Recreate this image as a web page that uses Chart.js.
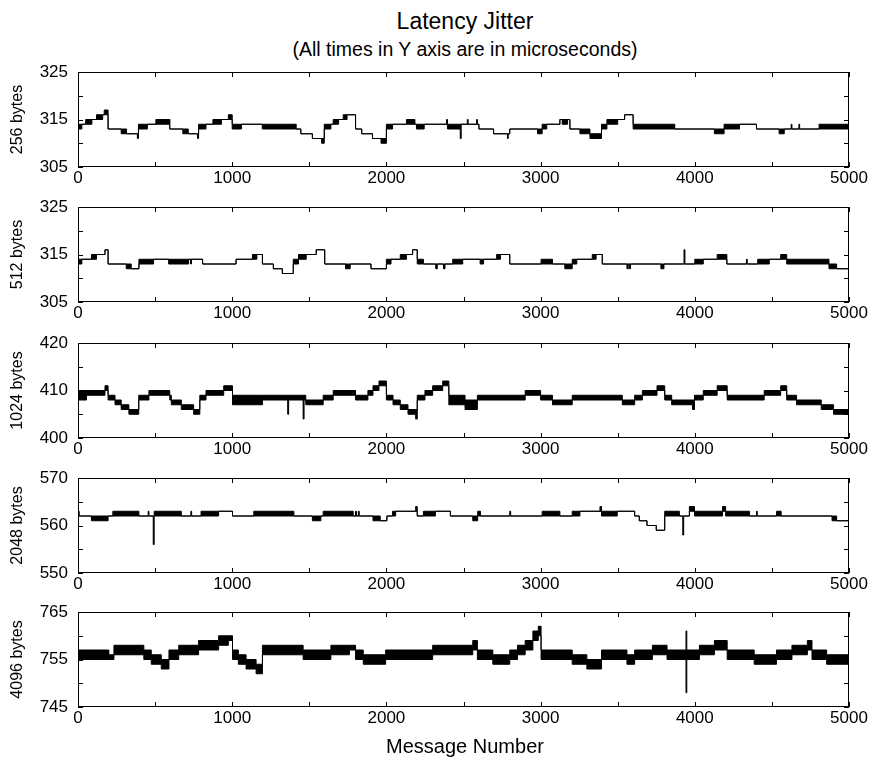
<!DOCTYPE html>
<html>
<head>
<meta charset="utf-8">
<title>Latency Jitter</title>
<script src="https://cdn.jsdelivr.net/npm/chart.js@4.4.1/dist/chart.umd.min.js"></script>
<style>
  body { margin: 0; background: #fff; overflow: hidden; }
  #wrap { position: relative; width: 871px; height: 757px; font-family: "Liberation Sans", Arial, sans-serif; color: #000; }
  #wrap canvas { position: absolute; left: 0; }
  .txt { position: absolute; left: 65px; width: 800px; text-align: center; white-space: nowrap; }
</style>
</head>
<body>
<div id="wrap">
  <div class="txt" style="top:8px;font-size:23px;line-height:26px;">Latency Jitter</div>
  <div class="txt" style="top:38px;font-size:19.5px;line-height:22px;">(All times in Y axis are in microseconds)</div>
  <canvas id="c256" width="871" height="137"></canvas>
  <canvas id="c512" width="871" height="137"></canvas>
  <canvas id="c1024" width="871" height="137"></canvas>
  <canvas id="c2048" width="871" height="137"></canvas>
  <canvas id="c4096" width="871" height="137"></canvas>
  <div class="txt" style="top:734px;font-size:20px;line-height:24px;">Message Number</div>
</div>
<script>
// x tick labels (message number)
const xTicks = [0, 1000, 2000, 3000, 4000, 5000];

// y tick labels per message size
const ticks256 = [305, 315, 325];
const ticks512 = [305, 315, 325];
const ticks1024 = [400, 410, 420];
const ticks2048 = [550, 560, 570];
const ticks4096 = [745, 755, 765];

// latency: [message number, low, high]
// each row holds until the next one; low < high is a band where the value flips between levels
const jitter256 = [
  [0, 313, 314], [25, 314, 314], [50, 314, 315], [90, 315, 315], [120, 315, 316], [160, 316, 316],
  [170, 316, 317], [195, 313, 313], [280, 312, 313], [315, 312, 312], [385, 311, 312], [392, 313, 314],
  [450, 314, 314], [505, 314, 315], [590, 315, 315], [595, 313, 313], [680, 312, 313], [715, 312, 312],
  [775, 311, 312], [782, 313, 314], [830, 314, 314], [875, 314, 315], [930, 315, 315], [975, 315, 316],
  [1000, 313, 314], [1060, 314, 314], [1195, 313, 314], [1415, 313, 313], [1445, 312, 312], [1520, 311, 311],
  [1580, 310, 311], [1597, 313, 314], [1640, 314, 314], [1655, 314, 315], [1690, 315, 315], [1720, 315, 316],
  [1745, 316, 316], [1800, 313, 313], [1840, 312, 312], [1910, 311, 311], [1965, 310, 311], [2000, 313, 314],
  [2040, 314, 314], [2130, 314, 315], [2185, 314, 314], [2195, 313, 314], [2245, 314, 314], [2390, 314, 315],
  [2396, 313, 314], [2479, 311, 314], [2485, 314, 314], [2525, 314, 315], [2530, 314, 314], [2585, 314, 315],
  [2590, 314, 314], [2600, 313, 313], [2695, 312, 312], [2785, 311, 312], [2790, 312, 312], [2800, 313, 313],
  [2980, 312, 313], [3010, 313, 314], [3040, 314, 314], [3125, 315, 315], [3140, 314, 315], [3175, 315, 315],
  [3190, 313, 313], [3255, 312, 313], [3320, 311, 312], [3395, 313, 314], [3430, 314, 315], [3500, 315, 315],
  [3545, 316, 316], [3600, 313, 314], [3870, 313, 313], [4127, 312, 313], [4190, 313, 314], [4290, 314, 314],
  [4400, 313, 313], [4547, 312, 313], [4580, 313, 313], [4625, 313, 314], [4630, 313, 313], [4675, 313, 314],
  [4680, 313, 313], [4806, 313, 314], [5000, 313, 314]
];

const jitter512 = [
  [0, 313, 314], [25, 314, 314], [87, 314, 315], [120, 315, 315], [175, 316, 316], [195, 313, 313],
  [313, 312, 313], [345, 312, 312], [395, 313, 314], [490, 314, 314], [588, 313, 314], [717, 314, 314],
  [730, 313, 314], [736, 314, 314], [808, 313, 313], [1025, 314, 314], [1131, 314, 315], [1160, 315, 315],
  [1196, 313, 313], [1267, 312, 312], [1325, 311, 311], [1396, 313, 314], [1430, 314, 315], [1480, 315, 315],
  [1545, 316, 316], [1600, 313, 313], [1735, 312, 313], [1765, 313, 313], [1900, 312, 312], [2000, 313, 314],
  [2030, 314, 314], [2090, 314, 315], [2130, 315, 315], [2170, 316, 316], [2200, 313, 314], [2240, 313, 313],
  [2320, 312, 313], [2330, 313, 313], [2370, 312, 313], [2380, 313, 313], [2430, 313, 314], [2495, 314, 314],
  [2608, 313, 314], [2630, 314, 314], [2715, 314, 315], [2740, 315, 315], [2800, 313, 313], [3003, 313, 314],
  [3077, 313, 313], [3157, 312, 313], [3205, 313, 314], [3235, 314, 314], [3335, 314, 315], [3360, 315, 315],
  [3400, 313, 313], [3560, 312, 313], [3568, 313, 313], [3575, 312, 313], [3583, 313, 313], [3780, 312, 313],
  [3800, 313, 313], [3930, 313, 316], [3936, 313, 313], [4000, 313, 314], [4055, 314, 314], [4145, 314, 315],
  [4208, 313, 313], [4335, 313, 314], [4340, 313, 313], [4408, 313, 314], [4483, 314, 314], [4557, 314, 315],
  [4596, 313, 314], [4870, 312, 313], [4920, 312, 312], [5000, 312, 312]
];

const jitter1024 = [
  [0, 408, 410], [55, 409, 410], [175, 410, 411], [195, 408, 409], [240, 407, 408], [280, 406, 407],
  [330, 405, 406], [394, 408, 409], [460, 409, 410], [595, 408, 409], [605, 407, 408], [670, 406, 407],
  [750, 405, 406], [790, 408, 409], [830, 409, 410], [945, 410, 411], [1002, 407, 409], [1196, 408, 409],
  [1360, 405, 409], [1366, 408, 409], [1460, 404, 409], [1466, 408, 409], [1477, 407, 408], [1590, 408, 409],
  [1655, 409, 410], [1800, 408, 409], [1880, 409, 410], [1913, 410, 411], [1952, 411, 412], [2000, 408, 409],
  [2043, 407, 408], [2090, 406, 407], [2140, 405, 406], [2190, 404, 406], [2200, 408, 409], [2250, 409, 410],
  [2300, 410, 411], [2365, 411, 412], [2405, 407, 409], [2510, 406, 408], [2590, 408, 409], [2900, 409, 410],
  [3000, 408, 409], [3077, 407, 408], [3205, 408, 409], [3530, 407, 408], [3610, 408, 409], [3660, 409, 410],
  [3755, 410, 411], [3805, 408, 409], [3850, 407, 408], [3985, 406, 408], [3998, 408, 409], [4055, 409, 410],
  [4145, 410, 411], [4210, 408, 409], [4450, 409, 410], [4557, 410, 411], [4596, 408, 409], [4660, 407, 408],
  [4820, 406, 407], [4900, 405, 406], [5000, 405, 406]
];

const jitter2048 = [
  [0, 562, 563], [8, 562, 562], [87, 561, 562], [195, 562, 562], [226, 562, 563], [395, 562, 562],
  [455, 562, 563], [460, 562, 562], [488, 556, 562], [494, 562, 563], [670, 562, 562], [732, 562, 563],
  [737, 562, 562], [798, 562, 563], [912, 563, 563], [1002, 562, 562], [1140, 562, 563], [1400, 562, 562],
  [1520, 561, 562], [1575, 562, 562], [1590, 562, 563], [1785, 562, 562], [1800, 562, 563], [1806, 562, 562],
  [1818, 562, 563], [1824, 562, 562], [1913, 561, 562], [1960, 561, 561], [2003, 562, 562], [2040, 562, 563],
  [2060, 563, 563], [2190, 563, 564], [2200, 562, 562], [2240, 562, 563], [2318, 563, 563], [2415, 562, 562],
  [2560, 561, 562], [2592, 562, 563], [2610, 562, 562], [2800, 562, 563], [2806, 562, 562], [3010, 562, 563],
  [3125, 562, 562], [3205, 562, 563], [3255, 563, 563], [3385, 563, 564], [3395, 562, 563], [3497, 563, 563],
  [3610, 562, 562], [3640, 561, 561], [3690, 560, 560], [3750, 559, 559], [3805, 562, 563], [3900, 562, 562],
  [3922, 558, 562], [3928, 562, 562], [3965, 563, 564], [3998, 562, 563], [4180, 563, 564], [4200, 562, 563],
  [4355, 562, 562], [4400, 562, 563], [4405, 562, 562], [4530, 562, 563], [4560, 562, 562], [4890, 561, 562],
  [4920, 561, 561], [5000, 561, 561]
];

const jitter4096 = [
  [0, 755, 757], [200, 755, 756], [233, 756, 758], [427, 755, 757], [475, 754, 756], [540, 753, 755],
  [590, 755, 757], [653, 756, 758], [782, 757, 759], [912, 758, 760], [975, 759, 760], [1002, 755, 757],
  [1040, 754, 756], [1090, 753, 755], [1155, 752, 754], [1196, 756, 758], [1460, 755, 757], [1640, 756, 758],
  [1760, 757, 758], [1800, 755, 757], [1850, 754, 756], [1995, 755, 757], [2300, 756, 758], [2560, 757, 759],
  [2590, 755, 757], [2690, 754, 756], [2800, 755, 757], [2850, 756, 758], [2900, 757, 759], [2950, 759, 761],
  [2985, 760, 762], [3003, 755, 757], [3205, 754, 756], [3300, 753, 755], [3395, 755, 757], [3560, 754, 756],
  [3610, 755, 757], [3725, 756, 758], [3820, 755, 757], [3943, 748, 761], [3948, 755, 757], [4030, 756, 758],
  [4127, 757, 759], [4210, 755, 757], [4385, 754, 756], [4530, 755, 757], [4630, 756, 758], [4730, 757, 759],
  [4760, 755, 757], [4855, 754, 756], [5000, 754, 756]
];

Chart.defaults.font.family = '"Liberation Sans", Arial, sans-serif';
Chart.defaults.color = "#000";

// gnuplot style box with inward ticks on all four sides
const frameTicks = {
  id: "frameTicks",
  afterDatasetsDraw(chart) {
    const { ctx, chartArea: a, scales } = chart;
    ctx.save();
    ctx.strokeStyle = "#000";
    ctx.lineWidth = 1;
    ctx.beginPath();
    for (let v = scales.x.min; v <= scales.x.max; v += 500) {
      const px = Math.round(scales.x.getPixelForValue(v)) + 0.5;
      ctx.moveTo(px, a.bottom);
      ctx.lineTo(px, a.bottom - 5);
      ctx.moveTo(px, a.top);
      ctx.lineTo(px, a.top + 5);
    }
    for (let v = scales.y.min; v <= scales.y.max; v += 5) {
      const py = Math.round(scales.y.getPixelForValue(v)) + 0.5;
      ctx.moveTo(a.left, py);
      ctx.lineTo(a.left + 5, py);
      ctx.moveTo(a.right, py);
      ctx.lineTo(a.right - 5, py);
    }
    ctx.stroke();
    ctx.strokeRect(a.left + 0.5, a.top + 0.5, a.right - a.left - 1, a.bottom - a.top - 1);
    ctx.restore();
  },
};

function noPad(scale) {
  scale.paddingLeft = 0;
  scale.paddingRight = 0;
  scale.paddingTop = 0;
  scale.paddingBottom = 0;
}

function points(rows, k) {
  return rows.map((r) => ({ x: r[0], y: r[k] }));
}

function makePanel(id, top, label, rows, yTicks) {
  const canvas = document.getElementById(id);
  canvas.style.top = top - 12 + "px";
  new Chart(canvas, {
    type: "line",
    data: {
      datasets: [
        {
          data: points(rows, 1),
          stepped: true,
          borderColor: "#000",
          borderWidth: 1,
          pointRadius: 0,
          fill: false,
        },
        {
          data: points(rows, 2),
          stepped: true,
          borderColor: "#000",
          borderWidth: 1,
          pointRadius: 0,
          fill: "-1",
          backgroundColor: "#000",
        },
      ],
    },
    options: {
      responsive: false,
      animation: false,
      devicePixelRatio: 1,
      layout: { padding: { top: 12, right: 22, left: 0, bottom: 0 } },
      plugins: { legend: { display: false }, tooltip: { enabled: false } },
      scales: {
        x: {
          type: "linear",
          min: 0,
          max: 5000,
          grid: { display: false, drawTicks: false },
          border: { display: false },
          afterBuildTicks: (s) => {
            s.ticks = xTicks.map((v) => ({ value: v }));
          },
          ticks: {
            font: { size: 17 },
            padding: 1,
            maxRotation: 0,
            autoSkip: false,
            callback: (v) => String(v),
          },
          afterFit: (s) => {
            s.height = 30;
            noPad(s);
          },
        },
        y: {
          min: yTicks[0],
          max: yTicks[yTicks.length - 1],
          grid: { display: false, drawTicks: false },
          border: { display: false },
          afterBuildTicks: (s) => {
            s.ticks = yTicks.map((v) => ({ value: v }));
          },
          ticks: {
            font: { size: 17 },
            padding: 10,
            autoSkip: false,
            callback: (v) => String(v),
          },
          title: {
            display: true,
            text: label,
            font: { size: 16 },
            padding: { top: 8, bottom: 0 },
          },
          afterFit: (s) => {
            s.width = 78;
            noPad(s);
          },
        },
      },
    },
    plugins: [frameTicks],
  });
}

makePanel("c256", 72, "256 bytes", jitter256, ticks256);
makePanel("c512", 207, "512 bytes", jitter512, ticks512);
makePanel("c1024", 343, "1024 bytes", jitter1024, ticks1024);
makePanel("c2048", 478, "2048 bytes", jitter2048, ticks2048);
makePanel("c4096", 612, "4096 bytes", jitter4096, ticks4096);
</script>
</body>
</html>
